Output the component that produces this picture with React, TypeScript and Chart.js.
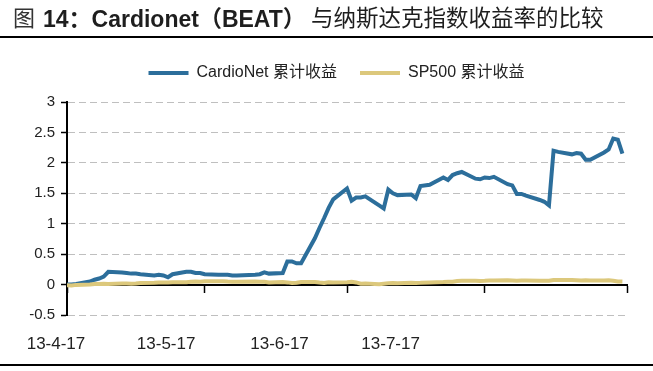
import React, { useEffect, useRef } from 'react';
import { Chart, registerables } from 'chart.js';

Chart.register(...registerables);

// ---------- data ----------
const startDate = '2013-04-17';
const tradeDates = [
  '04-17', '04-18', '04-19', '04-22', '04-23', '04-24', '04-25', '04-26', '04-29', '04-30',
  '05-01', '05-02', '05-03', '05-06', '05-07', '05-08', '05-09', '05-10', '05-13', '05-14',
  '05-15', '05-16', '05-17', '05-20', '05-21', '05-22', '05-23', '05-24', '05-28', '05-29',
  '05-30', '05-31',
  '06-03', '06-04', '06-05', '06-06', '06-07', '06-10', '06-11', '06-12', '06-13', '06-14',
  '06-17', '06-18', '06-19', '06-20', '06-21', '06-24', '06-25', '06-26', '06-27', '06-28',
  '07-01', '07-02', '07-03', '07-05', '07-08', '07-09', '07-10', '07-11', '07-12', '07-15',
  '07-16', '07-17', '07-18', '07-19', '07-22', '07-23', '07-24', '07-25', '07-26', '07-29',
  '07-30', '07-31',
  '08-01', '08-02', '08-05', '08-06', '08-07', '08-08', '08-09', '08-12', '08-13', '08-14',
  '08-15', '08-16',
];

const cardioNet = [
  0.0, 0.0, 0.01, 0.05, 0.08, 0.1, 0.13, 0.21, 0.2, 0.19,
  0.18, 0.18, 0.17, 0.15, 0.16, 0.15, 0.12, 0.17, 0.21, 0.21,
  0.19, 0.19, 0.17, 0.16, 0.16, 0.16, 0.15, 0.15, 0.16, 0.17,
  0.2, 0.18,
  0.19, 0.38, 0.38, 0.35, 0.35, 0.76, 0.93, 1.09, 1.26, 1.4,
  1.58, 1.38, 1.43, 1.43, 1.45, 1.3, 1.25, 1.56, 1.5, 1.47,
  1.48, 1.42, 1.62, 1.64, 1.76, 1.72, 1.8, 1.83, 1.85, 1.74,
  1.73, 1.76, 1.75, 1.77, 1.65, 1.63, 1.49, 1.49, 1.46, 1.39,
  1.36, 1.3,
  2.2, 2.18, 2.14, 2.16, 2.15, 2.05, 2.05, 2.17, 2.22, 2.4,
  2.38, 2.15,
];

const sp500 = [
  -0.01, -0.015, -0.005, 0.0, 0.01, 0.01, 0.012, 0.01, 0.017, 0.018,
  0.012, 0.018, 0.027, 0.029, 0.033, 0.036, 0.033, 0.037, 0.037, 0.045,
  0.05, 0.045, 0.054, 0.054, 0.055, 0.049, 0.045, 0.045, 0.051, 0.045,
  0.048, 0.036,
  0.041, 0.036, 0.025, 0.031, 0.042, 0.042, 0.033, 0.026, 0.038, 0.033,
  0.04, 0.046, 0.035, 0.013, 0.016, 0.006, 0.013, 0.021, 0.026, 0.023,
  0.028, 0.027, 0.028, 0.036, 0.041, 0.047, 0.047, 0.058, 0.061, 0.062,
  0.059, 0.061, 0.065, 0.067, 0.069, 0.067, 0.064, 0.066, 0.067, 0.064,
  0.064, 0.064,
  0.075, 0.077, 0.075, 0.07, 0.066, 0.07, 0.067, 0.066, 0.069, 0.064,
  0.051, 0.049,
];

const seriesNames = ['CardioNet 累计收益', 'SP500 累计收益'];
const seriesColors = ['#2C6E9B', '#DCC87C'];

const yMin = -0.5;
const yMax = 3;
const yStep = 0.5;

const monthTickDates = ['04-17', '05-17', '06-17', '07-17', '08-17'];
const xLabels = ['13-4-17', '13-5-17', '13-6-17', '13-7-17'];
const xLabelDays = [-2.4, 21.6, 46.3, 70.5];

const titleLead = '图';
const titleBold = '14：Cardionet（BEAT）';
const titleRest = '与纳斯达克指数收益率的比较';

// ---------- helpers ----------
const dayOf = (md: string) => {
  const [y, m0, d0] = startDate.split('-').map(Number);
  const [m, d] = md.split('-').map(Number);
  return (Date.UTC(y, m - 1, d) - Date.UTC(y, m0 - 1, d0)) / 86400000;
};

const SANS = '"Liberation Sans", Arial, "Noto Sans CJK SC", sans-serif';

export default function App() {
  const ref = useRef<HTMLCanvasElement | null>(null);

  useEffect(() => {
    document.body.style.margin = '0';
    const canvas = ref.current;
    if (!canvas) return;
    const xs = tradeDates.map(dayOf);
    const monthDays = monthTickDates.map(dayOf);
    const xMax = monthDays[monthDays.length - 1];

    // legend: fixed band height and centred over the plot region
    const legendLayout = {
      id: 'legendLayout',
      beforeInit(chart: any) {
        const lg = chart.legend;
        if (!lg) return;
        const fit = lg.fit;
        lg.fit = function () {
          fit.call(this);
          this.height = 60;
        };
      },
      afterLayout(chart: any) {
        const lg = chart.legend;
        if (!lg) return;
        lg.left += 23;
        lg.right += 23;
      },
    };

    const chart = new Chart(canvas, {
      type: 'line',
      data: {
        datasets: [
          {
            label: seriesNames[0],
            data: xs.map((x, i) => ({ x, y: cardioNet[i] })),
            borderColor: seriesColors[0],
            backgroundColor: seriesColors[0],
            borderWidth: 4,
            pointRadius: 0,
            tension: 0,
            order: 2,
          },
          {
            label: seriesNames[1],
            data: xs.map((x, i) => ({ x, y: sp500[i] })),
            borderColor: seriesColors[1],
            backgroundColor: seriesColors[1],
            borderWidth: 4,
            pointRadius: 0,
            tension: 0,
            order: 1,
          },
        ],
      },
      options: {
        animation: false,
        responsive: false,
        maintainAspectRatio: false,
        layout: { padding: { top: 42, right: 26, left: 0, bottom: 0 } },
        plugins: {
          legend: {
            position: 'top',
            labels: {
              usePointStyle: true,
              pointStyle: 'line',
              pointStyleWidth: 40,
              boxHeight: 4,
              padding: 23,
              color: '#222',
              font: { family: SANS, size: 16 },
              sort: (a: any, b: any) => a.datasetIndex - b.datasetIndex,
            },
          },
          tooltip: { enabled: false },
        },
        scales: {
          x: {
            type: 'linear',
            min: 0,
            max: xMax,
            position: { y: 0 },
            afterBuildTicks: (s: any) => {
              s.ticks = monthDays.map((v) => ({ value: v }));
            },
            ticks: { display: false },
            grid: {
              drawOnChartArea: false,
              drawTicks: true,
              tickLength: 7,
              tickColor: '#000',
              tickWidth: 1.5,
            },
            border: { color: '#000', width: 2 },
          },
          xl: {
            type: 'linear',
            axis: 'x',
            position: 'bottom',
            min: 0,
            max: xMax,
            afterBuildTicks: (s: any) => {
              s.ticks = xLabelDays.map((v) => ({ value: v }));
            },
            afterFit: (s: any) => {
              s.height = 56;
            },
            ticks: {
              autoSkip: false,
              maxRotation: 0,
              padding: 19,
              color: '#222',
              font: { family: SANS, size: 17 },
              callback: (_v: any, i: number) => xLabels[i],
            },
            grid: { display: false, drawTicks: false },
            border: { display: false },
          },
          y: {
            min: yMin,
            max: yMax,
            afterFit: (s: any) => {
              s.width = 67;
            },
            ticks: {
              stepSize: yStep,
              padding: 6,
              color: '#222',
              font: { family: SANS, size: 15 },
              callback: (v: any) => String(Number(v)),
            },
            grid: {
              color: '#BFBFBF',
              lineWidth: 1,
              tickColor: '#000',
              tickLength: 6,
              tickWidth: 1.5,
            },
            border: { color: '#000', width: 2, dash: [7, 4] },
          },
        },
      },
      plugins: [legendLayout],
    } as any);

    return () => chart.destroy();
  }, []);

  const titleBase: React.CSSProperties = {
    position: 'absolute',
    top: 5,
    fontFamily: SANS,
    lineHeight: '28px',
    color: '#1e1e1e',
    whiteSpace: 'nowrap',
  };

  return (
    <div style={{ position: 'relative', width: 653, height: 371, background: '#fff', overflow: 'hidden' }}>
      <canvas ref={ref} width={653} height={371} style={{ position: 'absolute', left: 0, top: 0, width: 653, height: 371 }} />
      <span style={{ ...titleBase, left: 13, fontSize: 22, color: '#333' }}>{titleLead}</span>
      <span style={{ ...titleBase, left: 43, fontSize: 23, fontWeight: 'bold' }}>{titleBold}</span>
      <span style={{ ...titleBase, left: 311, fontSize: 22.5 }}>{titleRest}</span>
      <div style={{ position: 'absolute', left: 0, top: 36, width: 653, height: 2, background: '#000' }} />
      <div style={{ position: 'absolute', left: 0, top: 364, width: 653, height: 2, background: '#000' }} />
    </div>
  );
}
